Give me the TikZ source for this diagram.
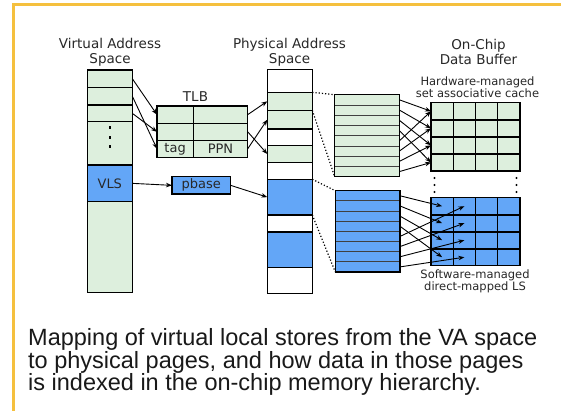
\documentclass[tikz,border=0pt]{standalone}
\usepackage{fontspec}
\setmainfont{DejaVu Sans}
\newfontfamily\capfont{Liberation Sans}
\usetikzlibrary{arrows.meta}
\definecolor{gfill}{RGB}{221,239,221}
\definecolor{bfill}{RGB}{99,166,247}
\definecolor{framec}{RGB}{245,192,62}
\definecolor{txt}{RGB}{40,40,40}
\tikzset{
  mybox/.style={draw=black, line width=1.4pt, inner sep=0pt, outer sep=0pt, anchor=north west, text=txt, font=\fontsize{13}{15}\selectfont},
  rowbox/.style={draw=black!75, line width=0.8pt, inner sep=0pt, outer sep=0pt, anchor=north west, minimum width=64.7pt},
  cellbox/.style={draw=black, line width=1.1pt, inner sep=0pt, outer sep=0pt, anchor=north west, minimum width=22.25pt},
  lbl/.style={text=txt, font=\fontsize{13.5}{15}\selectfont, align=center, inner sep=0pt},
  slbl/.style={text=txt, font=\fontsize{11.5}{11.7}\selectfont, align=center, inner sep=0pt},
  arr/.style={-{Stealth[length=6pt,width=4.5pt]}, line width=0.9pt},
  dotline/.style={dotted, line width=1.2pt},
  captext/.style={font=\capfont\fontsize{23.5}{23.5}\selectfont, text=black!90, inner sep=0pt, anchor=base west}
}
\begin{document}
\begin{tikzpicture}[x=1pt,y=-1pt]
\useasboundingbox (0,0) rectangle (561,410);
\clip (0,0) rectangle (561,410);
\fill[white] (0,0) rectangle (561,410);
% frame
\draw[framec, line width=3pt] (13.5,420) -- (13.5,4.7) -- (570,4.7);

% labels
\node[lbl] (lva) at (110,52) {Virtual Address\\Space};
\node[lbl] (lpa) at (289.5,52) {Physical Address\\Space};
\node[lbl] (lob) at (478.5,51.8) {On-Chip\\Data Buffer};
\node[slbl] (lhw) at (477.5,87) {Hardware-managed\\set associative cache};
\node[slbl] (lsw) at (475,281.3) {Software-managed\\direct-mapped LS};
\node[lbl] (ltlb) at (195.5,97) {TLB};

% virtual address space
\node[mybox, fill=gfill, minimum width=45pt, minimum height=17.3pt] (va1) at (87.3,70) {};
\node[mybox, fill=gfill, minimum width=45pt, minimum height=17.7pt] (va2) at (87.3,87.3) {};
\node[mybox, fill=gfill, minimum width=45pt, minimum height=16.7pt] (va3) at (87.3,105) {};
\node[mybox, fill=gfill, minimum width=45pt, minimum height=43.3pt] (va4) at (87.3,121.7) {};
\node[mybox, fill=bfill, minimum width=45pt, minimum height=36.7pt] (vls) at (87.3,165) {VLS};
\node[mybox, fill=gfill, minimum width=45pt, minimum height=91pt] (va5) at (87.3,201.7) {};
\foreach \yy in {127.7,137.3,146.7} \fill (108.7,\yy-1.3) rectangle (111.3,\yy+1.3);

% TLB
\node[mybox, fill=gfill, minimum width=36.3pt, minimum height=17.3pt] (tlb11) at (157,106) {};
\node[mybox, fill=gfill, minimum width=54.4pt, minimum height=17.3pt] (tlb12) at (193.3,106) {};
\node[mybox, fill=gfill, minimum width=36.3pt, minimum height=17pt] (tlb21) at (157,123.3) {};
\node[mybox, fill=gfill, minimum width=54.4pt, minimum height=17pt] (tlb22) at (193.3,123.3) {};
\node[mybox, fill=gfill, minimum width=36.3pt, minimum height=17pt] (tlb31) at (157,140.3) {tag};
\node[mybox, fill=gfill, minimum width=54.4pt, minimum height=17pt] (tlb32) at (193.3,140.3) {PPN};

% pbase
\node[mybox, fill=bfill, minimum width=58.7pt, minimum height=17.3pt] (pbase) at (172,176.7) {pbase};

% physical address space
\node[mybox, fill=white, minimum width=45pt, minimum height=23pt] (pa1) at (267.3,69.3) {};
\node[mybox, fill=gfill, minimum width=45pt, minimum height=18pt] (pa2) at (267.3,92.3) {};
\node[mybox, fill=gfill, minimum width=45pt, minimum height=18.7pt] (pa3) at (267.3,110.3) {};
\node[mybox, fill=white, minimum width=45pt, minimum height=16.3pt] (pa4) at (267.3,129) {};
\node[mybox, fill=gfill, minimum width=45pt, minimum height=17.4pt] (pa5) at (267.3,145.3) {};
\node[mybox, fill=white, minimum width=45pt, minimum height=16.6pt] (pa6) at (267.3,162.7) {};
\node[mybox, fill=bfill, minimum width=45pt, minimum height=35.7pt] (pa7) at (267.3,179.3) {};
\node[mybox, fill=white, minimum width=45pt, minimum height=17pt] (pa8) at (267.3,215) {};
\node[mybox, fill=bfill, minimum width=45pt, minimum height=35.3pt] (pa9) at (267.3,232) {};
\node[mybox, fill=white, minimum width=45pt, minimum height=26pt] (pa10) at (267.3,267.3) {};

% expanded page blocks
\foreach \i in {1,...,8}
  \node[rowbox, fill=gfill, minimum height=10.25pt] (gb\i) at (334.7,{94.7+(\i-1)*10.25}) {};
\draw[line width=1.3pt] (gb1.north west) rectangle (gb8.south east);
\foreach \i in {1,...,8}
  \node[rowbox, fill=bfill, minimum height=10.16pt] (bb\i) at (335.3,{190.7+(\i-1)*10.16}) {};
\draw[line width=1.3pt] (bb1.north west) rectangle (bb8.south east);

% cache grids
\foreach \r in {1,...,4}
  \foreach \c in {1,...,4} {
    \node[cellbox, fill=gfill, minimum height=17.07pt] (gc\r\c) at ({431+(\c-1)*22.25},{102.7+(\r-1)*17.07}) {};
    \node[cellbox, fill=bfill, minimum height=17pt] (bc\r\c) at ({431+(\c-1)*22.25},{197.7+(\r-1)*17}) {};
  }
\foreach \r in {1,2,3} {
  \draw[line width=1.6pt] (gc\r1.south west) -- (gc\r4.south east);
  \draw[line width=1.6pt] (bc\r1.south west) -- (bc\r4.south east);
}
\draw[line width=1.4pt] (gc11.north west) rectangle (gc44.south east);
\draw[line width=1.4pt] (bc11.north west) rectangle (bc44.south east);
\foreach \xx in {434.5,516.5}
  \foreach \yy in {178,185,192}
    \fill (\xx,\yy) circle (1.1pt);

% dotted expansions
\draw[dotline] (pa2.north east) -- (gb1.north west);
\draw[dotline] (pa2.south east) -- (gb8.south west);
\draw[dotline] (pa7.north east) -- (bb1.north west);
\draw[dotline] (pa7.south east) -- (bb8.south west);

% arrows
\draw[arr] (va1.east) -- (tlb11.west);
\draw[arr] (va2.east) -- (tlb31.west);
\draw[arr] (va3.east) -- (tlb21.west);
\draw[arr] (tlb12.east) -- (pa2.west);
\draw[arr] (tlb22.east) -- (pa5.west);
\draw[arr] (tlb32.east) -- (pa3.west);
\draw[arr] (vls.east) -- (pbase.west);
\draw[arr] (pbase.east) -- (pa7.west);
\foreach \i/\r in {1/1,2/2,3/3,4/4,5/1,6/2,7/3,8/4}
  \draw[arr] (gb\i.east) -- (gc\r1.west);
\foreach \i/\r/\c in {1/1/1,2/2/1,3/3/1,4/4/1,5/1/2,6/2/2,7/3/2,8/4/2}
  \draw[arr] (bb\i.east) -- (bc\r\c.center);

% caption
\node[captext] (cap1) at (28,345.5) {Mapping of virtual local stores from the VA space};
\node[captext] (cap2) at (28,368) {to physical pages, and how data in those pages};
\node[captext] (cap3) at (28,390.5) {is indexed in the on-chip memory hierarchy.};
\end{tikzpicture}
\end{document}
